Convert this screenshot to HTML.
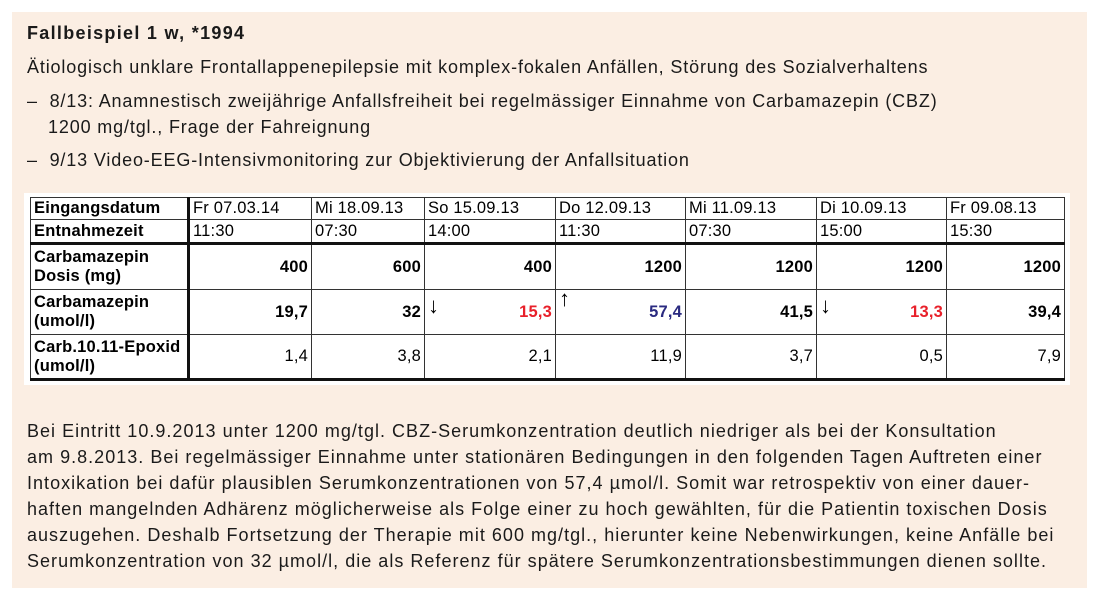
<!DOCTYPE html>
<html><head><meta charset="utf-8"><style>
body{margin:0;width:1100px;height:607px;background:#fff;position:relative;font-family:"Liberation Sans",Arial,sans-serif;color:#1a1a1a;overflow:hidden}
.box{position:absolute;left:12px;top:12px;width:1075px;height:576px;background:#fbeee3}
.t{position:absolute;left:27px;font-size:18px;letter-spacing:0.85px;white-space:nowrap}
.p{letter-spacing:1.02px}
.tw{position:absolute;left:24px;top:193px;width:1046px;height:192px;background:#fff}
table{position:absolute;left:30px;top:197px;border-collapse:collapse;font-size:16.5px;letter-spacing:0.2px;color:#000;table-layout:fixed}
td{border:1px solid #333;padding:0 3px;line-height:19px;vertical-align:middle;position:relative;white-space:nowrap}
td.n{text-align:right;font-weight:bold}
td.e{text-align:right}
.r1 td{height:21px}.r2 td{height:22px}
.r3 td{height:44px}.r4 td{height:44px}.r5 td{height:43px}
.h{font-weight:bold;border-right:3px solid #111}
.tb td{border-bottom:3px solid #111}
.red{color:#e8202a}.blu{color:#2a2a80}
.ar{position:absolute;left:3px;top:6px;font-size:22px;font-weight:normal;color:#000}
</style></head><body>
<div class="box"></div>
<div class="t" style="top:23px;font-weight:bold;letter-spacing:1.3px">Fallbeispiel 1 w, *1994</div>
<div class="t" style="top:57px">Ätiologisch unklare Frontallappenepilepsie mit komplex-fokalen Anfällen, Störung des Sozialverhaltens</div>
<div class="t" style="top:91px">–&nbsp;&nbsp;8/13: Anamnestisch zweijährige Anfallsfreiheit bei regelmässiger Einnahme von Carbamazepin (CBZ)</div>
<div class="t" style="top:117px;left:48px">1200 mg/tgl., Frage der Fahreignung</div>
<div class="t" style="top:150px">–&nbsp;&nbsp;9/13 Video-EEG-Intensivmonitoring zur Objektivierung der Anfallsituation</div>
<div class="tw"></div>
<table>
<colgroup><col style="width:158px"><col style="width:123px"><col style="width:113px"><col style="width:131px"><col style="width:130px"><col style="width:131px"><col style="width:130px"><col style="width:118px"></colgroup>
<tr class="r1"><td class="h">Eingangsdatum</td><td>Fr 07.03.14</td><td>Mi 18.09.13</td><td>So 15.09.13</td><td>Do 12.09.13</td><td>Mi 11.09.13</td><td>Di 10.09.13</td><td>Fr 09.08.13</td></tr>
<tr class="r2 tb"><td class="h">Entnahmezeit</td><td>11:30</td><td>07:30</td><td>14:00</td><td>11:30</td><td>07:30</td><td>15:00</td><td>15:30</td></tr>
<tr class="r3"><td class="h">Carbamazepin<br>Dosis (mg)</td><td class="n">400</td><td class="n">600</td><td class="n">400</td><td class="n">1200</td><td class="n">1200</td><td class="n">1200</td><td class="n">1200</td></tr>
<tr class="r4"><td class="h">Carbamazepin<br>(umol/l)</td><td class="n">19,7</td><td class="n">32</td><td class="n red"><span class="ar">↓</span>15,3</td><td class="n blu"><span class="ar" style="top:-1px">↑</span>57,4</td><td class="n">41,5</td><td class="n red"><span class="ar">↓</span>13,3</td><td class="n">39,4</td></tr>
<tr class="r5 tb"><td class="h">Carb.10.11-Epoxid<br>(umol/l)</td><td class="e">1,4</td><td class="e">3,8</td><td class="e">2,1</td><td class="e">11,9</td><td class="e">3,7</td><td class="e">0,5</td><td class="e">7,9</td></tr>
</table>
<div class="t p" style="top:421px">Bei Eintritt 10.9.2013 unter 1200 mg/tgl. CBZ-Serumkonzentration deutlich niedriger als bei der Konsultation</div>
<div class="t p" style="top:447px">am 9.8.2013. Bei regelmässiger Einnahme unter stationären Bedingungen in den folgenden Tagen Auftreten einer</div>
<div class="t p" style="top:473px">Intoxikation bei dafür plausiblen Serumkonzentrationen von 57,4 µmol/l. Somit war retrospektiv von einer dauer-</div>
<div class="t p" style="top:499px">haften mangelnden Adhärenz möglicherweise als Folge einer zu hoch gewählten, für die Patientin toxischen Dosis</div>
<div class="t p" style="top:525px">auszugehen. Deshalb Fortsetzung der Therapie mit 600 mg/tgl., hierunter keine Nebenwirkungen, keine Anfälle bei</div>
<div class="t p" style="top:551px">Serumkonzentration von 32 µmol/l, die als Referenz für spätere Serumkonzentrationsbestimmungen dienen sollte.</div>
</body></html>
